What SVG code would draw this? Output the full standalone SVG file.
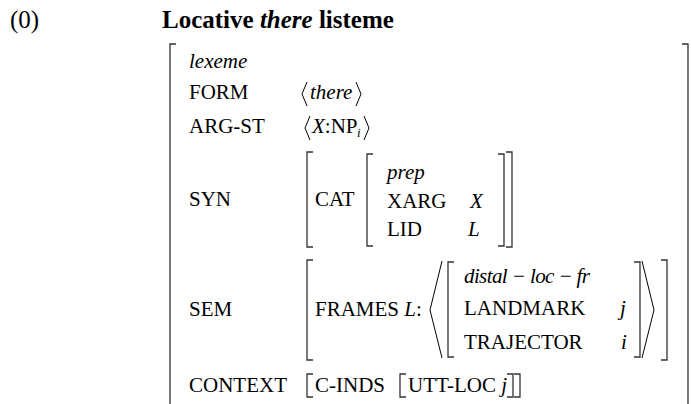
<svg xmlns="http://www.w3.org/2000/svg" width="691" height="404" viewBox="0 0 691 404">
<style>
text{font-family:"Liberation Serif","Times New Roman",serif;font-size:21px;fill:#000}
.it{font-style:italic}
.ttl{font-size:25px}
.b{font-weight:bold}
.sub{font-size:13px;font-style:italic}
.br{fill:none;stroke:#333;stroke-width:1.3}
.ang{fill:none;stroke:#000;stroke-width:1}
</style>
<rect width="691" height="404" fill="#fff"/>
<g id="title">
<text class="ttl" x="10" y="28">(0)</text>
<text class="ttl b" x="162" y="28">Locative <tspan class="it">there</tspan> listeme</text>
</g>
<g id="brackets">
<path class="br" d="M176,44H170V404"/>
<path class="br" d="M682,44H688V404"/>
<path class="br" d="M313,152H307V247H313"/>
<path class="br" d="M373,154H367V246H373"/>
<path class="br" d="M498,154H504V246H498"/>
<path class="br" d="M506,152H512V247H506"/>
<path class="br" d="M313,260H307V360H313"/>
<path class="br" d="M454,262H448V357H454"/>
<path class="br" d="M634,262H640V357H634"/>
<path class="br" d="M661,260H667V360H661"/>
<path class="br" d="M313,374H307V397H313"/>
<path class="br" d="M406,374H400V397H406"/>
<path class="br" d="M507,374H513V397H507"/>
<path class="br" d="M514,374H520V397H514"/>
<path class="ang" d="M442,261L430,310L442,358"/>
<path class="ang" d="M642,261L654,310L642,358"/>
<path class="ang" d="M307,82L302,94L307,106"/>
<path class="ang" d="M356,82L361,94L356,106"/>
<path class="ang" d="M310,116L305,128L310,140"/>
<path class="ang" d="M364,116L369,128L364,140"/>
</g>
<g id="lexeme">
<text class="it" x="189" y="68">lexeme</text>
</g>
<g id="form">
<text x="189" y="99">FORM</text>
<text class="it" x="310" y="99">there</text>
</g>
<g id="argst">
<text x="189" y="133">ARG-ST</text>
<text x="312" y="133"><tspan class="it">X</tspan>:NP</text>
<text class="sub" x="357" y="137">i</text>
</g>
<g id="syn">
<text x="189" y="206">SYN</text>
<text x="315" y="206">CAT</text>
<text class="it" x="387" y="179">prep</text>
<text x="387" y="208">XARG</text>
<text class="it" x="470" y="208">X</text>
<text x="387" y="236">LID</text>
<text class="it" x="468" y="236">L</text>
</g>
<g id="sem">
<text x="189" y="316">SEM</text>
<text x="315" y="316">FRAMES <tspan class="it">L</tspan>:</text>
<text class="it" x="464" y="283" textLength="126" lengthAdjust="spacing">distal − loc − fr</text>
<text x="464" y="315">LANDMARK</text>
<text class="it" x="620" y="315">j</text>
<text x="464" y="349">TRAJECTOR</text>
<text class="it" x="621" y="349">i</text>
</g>
<g id="context">
<text x="189" y="392">CONTEXT</text>
<text x="315" y="392">C-INDS</text>
<text x="408" y="392">UTT-LOC <tspan class="it">j</tspan></text>
</g>
</svg>
